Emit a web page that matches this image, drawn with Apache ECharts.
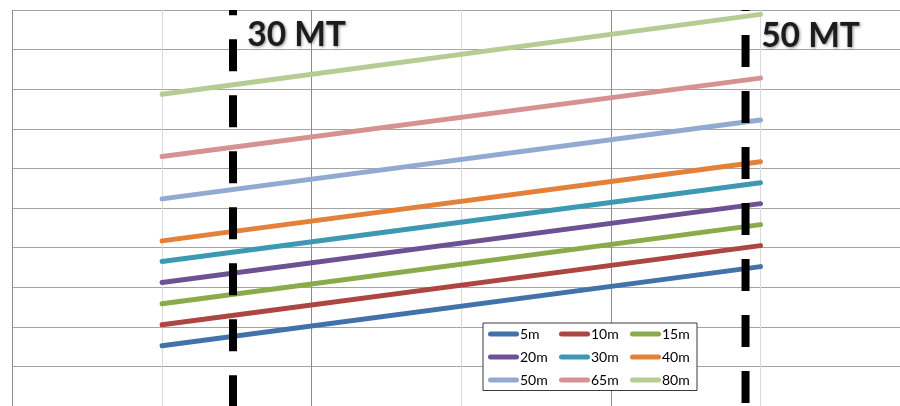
<!DOCTYPE html>
<html>
<head>
<meta charset="utf-8">
<script src="https://cdn.jsdelivr.net/npm/echarts@6/dist/echarts.min.js"></script>
<style>
  html, body { margin: 0; padding: 0; background: #fff; }
  #chart { width: 900px; height: 406px; }
</style>
</head>
<body>
<div id="chart"></div>
<script>
// Depth series: value at the start and end of the range
const seriesNames = ['5m', '10m', '15m', '20m', '30m', '40m', '50m', '65m', '80m'];
const xRange = [1, 5];
const startValues = [1.52, 2.05, 2.58, 3.12, 3.65, 4.17, 5.23, 6.30, 7.87];
const endValues   = [3.52, 4.05, 4.58, 5.11, 5.64, 6.17, 7.22, 8.28, 9.89];
const seriesColors = ['#4372ab', '#ad4541', '#8bab4a', '#6c5292', '#3c99b1', '#e3813a', '#91aad2', '#d69291', '#b5cd93'];

// Tonnage reference markers
const markerNames = ['30 MT', '50 MT'];
const markerX = [1.474, 4.90];
const markerDashOffset = [26.7, 31];
const markerLabelGap = [14.2, 15.6];

// Visible horizontal extent of the value axis
const xAxisMax = 5.9325;

const chart = echarts.init(document.getElementById('chart'), null, { renderer: 'canvas' });

const depthSeries = seriesNames.map((name, i) => ({
  type: 'line',
  name: name,
  data: [[xRange[0], startValues[i]], [xRange[1], endValues[i]]],
  symbol: 'none',
  color: seriesColors[i],
  lineStyle: { width: 5, color: seriesColors[i], cap: 'round' },
  z: 2
}));

const markerSeries = markerNames.map((name, i) => ({
  type: 'line',
  name: name,
  data: [
    {
      value: [markerX[i], 10],
      label: {
        show: true,
        formatter: name,
        position: 'right',
        distance: markerLabelGap[i],
        offset: [0, 25.5 + i],
        fontFamily: 'Lato',
        fontWeight: 'bold',
        fontSize: 33.5,
        color: '#1c1c1c',
        textShadowColor: 'rgba(0,0,0,0.45)',
        textShadowBlur: 3,
        textShadowOffsetX: 1,
        textShadowOffsetY: 1
      }
    },
    [markerX[i], 0]
  ],
  symbol: 'circle',
  symbolSize: 0,
  itemStyle: { color: 'rgba(0,0,0,0)' },
  lineStyle: { color: '#000', width: 8, type: [32, 24], dashOffset: markerDashOffset[i], cap: 'butt' },
  z: 5
}));

const pillIcon = 'path://M2.5,0 H28.5 A2.5,2.5 0 0 1 28.5,5 H2.5 A2.5,2.5 0 0 1 2.5,0 Z';

chart.setOption({
  animation: false,
  backgroundColor: '#fff',
  grid: { left: 12.5, top: 10, right: 0, height: 396.3, containLabel: false },
  xAxis: {
    type: 'value', min: 0, max: xAxisMax, interval: 1,
    axisLine: { show: false }, axisTick: { show: false }, axisLabel: { show: false },
    splitLine: { show: true, showMaxLine: false, lineStyle: { color: ['#8c8c8c', '#d9d9d9'], width: 1 } }
  },
  yAxis: {
    type: 'value', min: 0, max: 10, interval: 1,
    axisLine: { show: false }, axisTick: { show: false }, axisLabel: { show: false },
    splitLine: { show: true, lineStyle: { color: '#a3a3a3', width: 1 } }
  },
  legend: {
    data: seriesNames,
    orient: 'horizontal',
    left: 483,
    top: 323,
    width: 220,
    itemGap: 6,
    itemWidth: 31,
    itemHeight: 5,
    icon: pillIcon,
    padding: [2.5, 2, 2, 5],
    backgroundColor: '#fff',
    borderColor: '#3a3a3a',
    borderWidth: 1,
    borderRadius: 0,
    textStyle: {
      fontFamily: 'Lato',
      fontSize: 14,
      color: '#000',
      width: 33,
      lineHeight: 17,
      padding: [0, 0, 0, -4]
    },
    z: 10
  },
  series: depthSeries.concat(markerSeries)
});
</script>
</body>
</html>
